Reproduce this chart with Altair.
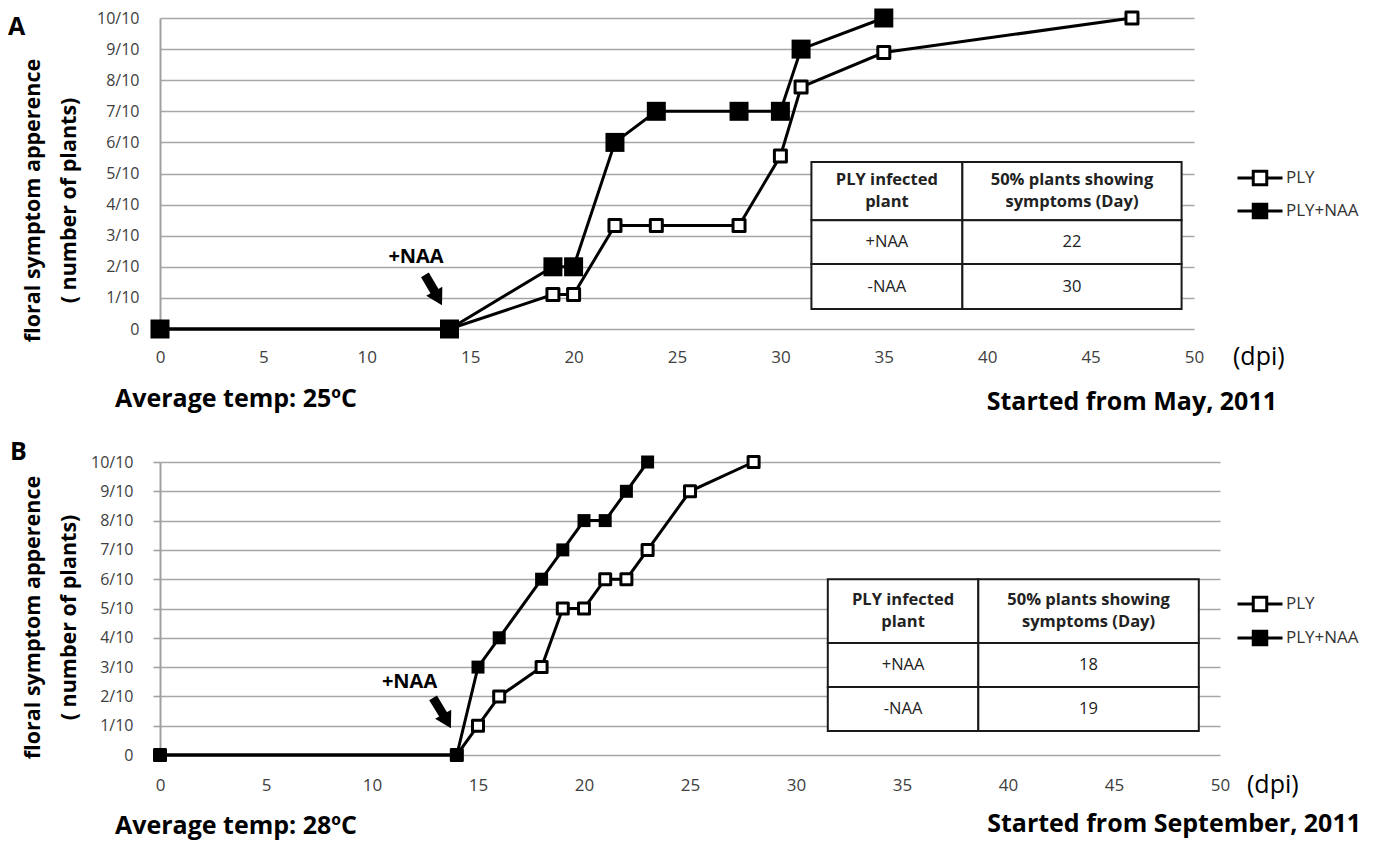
import json
import altair as alt
import pandas as pd

FONT = "Open Sans"

# ---------------- data ----------------
series_names = ["PLY", "PLY+NAA"]

a_days_ply = [0, 14, 19, 20, 22, 24, 28, 30, 31, 35, 47]
a_vals_ply = [0, 0, 1.11, 1.11, 3.33, 3.33, 3.33, 5.56, 7.78, 8.89, 10]
a_days_naa = [0, 14, 19, 20, 22, 24, 28, 30, 31, 35]
a_vals_naa = [0, 0, 2, 2, 6, 7, 7, 7, 9, 10]

b_days_ply = [0, 14, 15, 16, 18, 19, 20, 21, 22, 23, 25, 28]
b_vals_ply = [0, 0, 1, 2, 3, 5, 5, 6, 6, 7, 9, 10]
b_days_naa = [0, 14, 15, 16, 18, 19, 20, 21, 22, 23]
b_vals_naa = [0, 0, 3, 4, 6, 7, 8, 8, 9, 10]

y_tick_values = list(range(11))
y_tick_labels = ["0", "1/10", "2/10", "3/10", "4/10", "5/10",
                 "6/10", "7/10", "8/10", "9/10", "10/10"]
x_tick_values = [0, 5, 10, 15, 20, 25, 30, 35, 40, 45, 50]

y_title = ["floral symptom apperence", "( number of plants)"]

table_header = ["PLY infected\nplant", "50% plants showing\nsymptoms (Day)"]
a_table_rows = [["+NAA", "22"], ["-NAA", "30"]]
b_table_rows = [["+NAA", "18"], ["-NAA", "19"]]

# table frame in data units (column / row boundaries)
a_table_x = [31.5, 38.8, 49.4]
a_table_y = [5.37, 3.5, 2.09, 0.64]
b_table_x = [31.5, 38.6, 49.0]
b_table_y = [6.0, 3.82, 2.32, 0.82]

# "+NAA" annotation arrow (data units)
a_arrow_x = [12.81, 13.35]
a_arrow_y = [1.74, 1.13]
a_head = [13.45, 0.99]
a_naa_label = [12.38, 2.12]
b_arrow_x = [12.88, 13.4]
b_arrow_y = [1.95, 1.33]
b_head = [13.54, 1.15]
b_naa_label = [11.77, 2.29]

SYMBOL_PATH = "M-3,0H-0.9M0.9,0H3M-0.9,-0.9H0.9V0.9H-0.9Z"


def panel(cfg):
    W, H = cfg["width"], cfg["height"]
    xs = alt.Scale(domain=[0, 50], nice=False, zero=False)
    ys = alt.Scale(domain=[0, 10], nice=False)
    x_axis = alt.Axis(values=x_tick_values, grid=False, domain=False, ticks=False,
                      tickSize=0, labelPadding=cfg["xlabpad"], labelFont=FONT,
                      labelFontSize=17, labelColor="#404040", labelFlush=False,
                      title=None)
    y_axis_kw = dict(values=y_tick_values,
                     labelExpr=json.dumps(y_tick_labels) + "[datum.value]",
                     grid=True, gridColor="#a6a6a6", gridWidth=1.6,
                     domain=True, domainColor="#a0a0a0", domainWidth=2,
                     labelPadding=cfg["ylabpad"], labelFont=FONT, labelFontSize=16,
                     labelColor="#404040", title=y_title, titleFont=FONT,
                     titleFontSize=21.5, titleFontWeight="bold", titleColor="black",
                     titleAngle=270, titleX=cfg["titleX"], titleY=cfg["titleY"],
                     titleAlign="center", titleBaseline="middle", titleLineHeight=36)
    if cfg["ytick"] > 0:
        y_axis_kw.update(ticks=True, tickSize=cfg["ytick"], tickColor="#a0a0a0", tickWidth=1.6)
    else:
        y_axis_kw.update(ticks=False, tickSize=0)
    y_axis = alt.Axis(**y_axis_kw)

    def X(f):
        return alt.X(f, scale=xs, axis=x_axis)

    def Y(f):
        return alt.Y(f, scale=ys, axis=y_axis)

    df = pd.DataFrame({
        "day": cfg["days_ply"] + cfg["days_naa"],
        "value": cfg["vals_ply"] + cfg["vals_naa"],
        "series": [series_names[0]] * len(cfg["days_ply"]) + [series_names[1]] * len(cfg["days_naa"]),
    })

    legend = alt.Legend(orient="none", legendX=cfg["legX"], legendY=cfg["legY"], title=None,
                        symbolType=SYMBOL_PATH, symbolSize=225, symbolStrokeColor="black",
                        symbolStrokeWidth=3, symbolOffset=14, symbolOpacity=1,
                        labelOffset=17, labelFont=FONT, labelFontSize=17,
                        labelColor="#333333", rowPadding=cfg["legRowPad"], padding=0,
                        direction="vertical")
    fill = alt.Fill("series:N", scale=alt.Scale(domain=series_names, range=["white", "black"]),
                    legend=legend)

    lines = alt.Chart(df).mark_line(color="black", strokeWidth=3).encode(
        x=X("day:Q"), y=Y("value:Q"), detail="series:N")
    pts_ply = alt.Chart(df).transform_filter(alt.datum.series == series_names[0]).mark_point(
        shape="square", filled=True, stroke="black", strokeWidth=3, strokeJoin="round",
        opacity=1, size=cfg["size_ply"]).encode(x=X("day:Q"), y=Y("value:Q"), fill=fill)
    pts_naa = alt.Chart(df).transform_filter(alt.datum.series == series_names[1]).mark_point(
        shape="square", filled=True, strokeWidth=0, opacity=1,
        size=cfg["size_naa"]).encode(x=X("day:Q"), y=Y("value:Q"), fill=fill)

    # table
    tx, ty = cfg["table_x"], cfg["table_y"]
    cells = []
    for r in range(3):
        for c in range(2):
            cells.append({"x": tx[c], "x2": tx[c + 1], "y": ty[r], "y2": ty[r + 1]})
    df_cells = pd.DataFrame(cells)
    rects = alt.Chart(df_cells).mark_rect(fill="white", stroke="#1a1a1a", strokeWidth=2).encode(
        x=X("x:Q"), x2="x2:Q", y=Y("y:Q"), y2="y2:Q")
    cx = [(tx[0] + tx[1]) / 2, (tx[1] + tx[2]) / 2]
    cy = [(ty[r] + ty[r + 1]) / 2 for r in range(3)]
    df_head = pd.DataFrame({"x": cx, "y": [cy[0], cy[0]], "t": table_header})
    body = []
    for r, row in enumerate(cfg["rows"]):
        for c, val in enumerate(row):
            body.append({"x": cx[c], "y": cy[r + 1], "t": val})
    df_body = pd.DataFrame(body)
    head_txt = alt.Chart(df_head).mark_text(font=FONT, fontSize=16.5, fontWeight="bold",
                                           color="#222222", lineBreak="\n", lineHeight=22,
                                           baseline="middle", align="center", dy=-11).encode(
        x=X("x:Q"), y=Y("y:Q"), text="t:N")
    body_txt = alt.Chart(df_body).mark_text(font=FONT, fontSize=16.5, color="#222222",
                                           baseline="middle", align="center").encode(
        x=X("x:Q"), y=Y("y:Q"), text="t:N")

    # arrow + label
    df_arrow = pd.DataFrame({"x": cfg["arrow_x"], "y": cfg["arrow_y"]})
    shaft = alt.Chart(df_arrow).mark_line(color="black", strokeWidth=9, strokeCap="butt").encode(
        x=X("x:Q"), y=Y("y:Q"))
    df_headpt = pd.DataFrame({"x": [cfg["head"][0]], "y": [cfg["head"][1]]})
    head = alt.Chart(df_headpt).mark_point(shape="triangle-up", filled=True, color="black",
                                          opacity=1, size=340, angle=151).encode(
        x=X("x:Q"), y=Y("y:Q"))
    df_lab = pd.DataFrame({"x": [cfg["naa_label"][0]], "y": [cfg["naa_label"][1]], "t": ["+NAA"]})
    naa_lab = alt.Chart(df_lab).mark_text(font=FONT, fontSize=20, fontWeight="bold",
                                         color="black", align="center",
                                         baseline="alphabetic").encode(
        x=X("x:Q"), y=Y("y:Q"), text="t:N")

    # texts around the plot (pixel offsets from the plot area)
    def ptext(t, px, py, size, weight="normal", align="left", baseline="alphabetic"):
        return alt.Chart(pd.DataFrame({"t": [t]})).mark_text(
            font=FONT, fontSize=size, fontWeight=weight, color="black", align=align,
            baseline=baseline).encode(x=alt.value(px), y=alt.value(py), text="t:N")

    letter = ptext(cfg["letter"], cfg["letter_xy"][0], cfg["letter_xy"][1], 25, "bold")
    dpi = ptext("(dpi)", cfg["dpi_xy"][0], cfg["dpi_xy"][1], 25, "normal", "left", "middle")
    temp = ptext(cfg["temp"], cfg["temp_xy"][0], cfg["temp_xy"][1], 25, "bold")
    start = ptext(cfg["start"], cfg["start_xy"][0], cfg["start_xy"][1], 25, "bold", "right")

    return alt.layer(lines, pts_ply, pts_naa, rects, head_txt, body_txt, shaft, head,
                     naa_lab, letter, dpi, temp, start).properties(width=W, height=H)


cfg_a = dict(width=1034, height=311, xlabpad=20, ylabpad=21, ytick=0,
             titleX=-127, titleY=182,
             days_ply=a_days_ply, vals_ply=a_vals_ply, days_naa=a_days_naa, vals_naa=a_vals_naa,
             size_ply=144, size_naa=361, legX=1077, legY=151, legRowPad=7,
             table_x=a_table_x, table_y=a_table_y, rows=a_table_rows,
             arrow_x=a_arrow_x, arrow_y=a_arrow_y, head=a_head, naa_label=a_naa_label,
             letter="A", letter_xy=(-152, 17), dpi_xy=(1073, 339),
             temp="Average temp: 25ºC", temp_xy=(-45, 389),
             start="Started from May, 2011", start_xy=(1117, 392))

cfg_b = dict(width=1060, height=293, xlabpad=22, ylabpad=20, ytick=7,
             titleX=-127, titleY=155,
             days_ply=b_days_ply, vals_ply=b_vals_ply, days_naa=b_days_naa, vals_naa=b_vals_naa,
             size_ply=121, size_naa=169, legX=1077, legY=133, legRowPad=8,
             table_x=b_table_x, table_y=b_table_y, rows=b_table_rows,
             arrow_x=b_arrow_x, arrow_y=b_arrow_y, head=b_head, naa_label=b_naa_label,
             letter="B", letter_xy=(-150, -2), dpi_xy=(1087, 323),
             temp="Average temp: 28ºC", temp_xy=(-45, 372),
             start="Started from September, 2011", start_xy=(1201, 370))

chart = alt.vconcat(panel(cfg_a), panel(cfg_b), spacing=133, bounds="flush").resolve_scale(
    fill="independent").resolve_legend(fill="independent").properties(
    padding={"left": 0, "top": 0, "right": 0, "bottom": 3}).configure(
    font=FONT, view=alt.ViewConfig(strokeWidth=0))

chart.save("out.html", embed_options={"renderer": "svg", "actions": False})
